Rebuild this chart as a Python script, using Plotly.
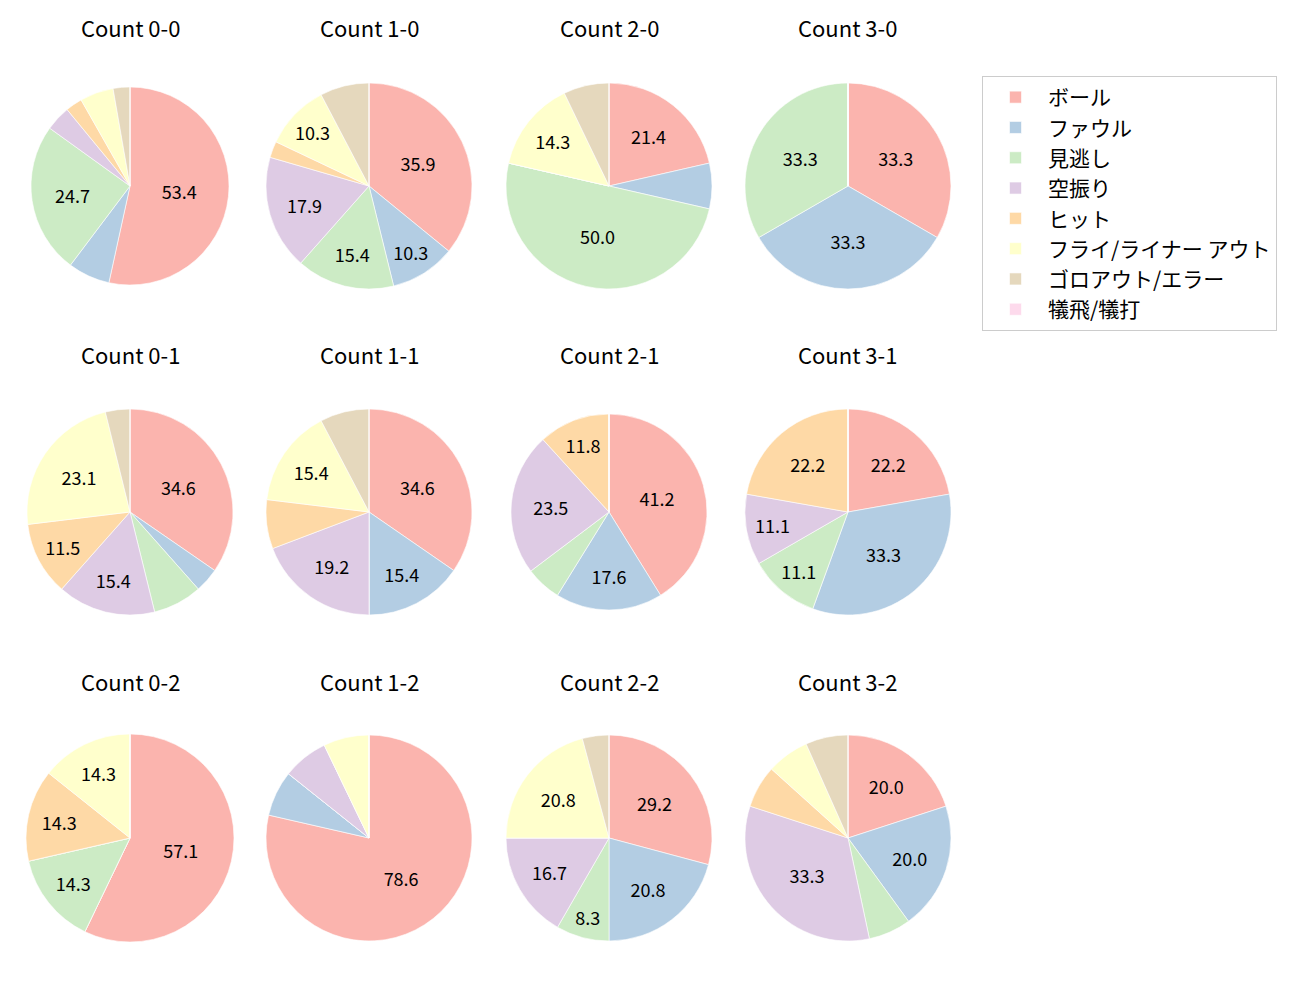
import plotly.graph_objects as go

categories = ["ボール", "ファウル", "見逃し", "空振り", "ヒット",
              "フライ/ライナー アウト", "ゴロアウト/エラー", "犠飛/犠打"]
colors = ["#fbb4ae", "#b3cde3", "#ccebc5", "#decbe4", "#fed9a6",
          "#ffffcc", "#e5d8bd", "#fddaec"]

titles = ["Count 0-0", "Count 1-0", "Count 2-0", "Count 3-0",
          "Count 0-1", "Count 1-1", "Count 2-1", "Count 3-1",
          "Count 0-2", "Count 1-2", "Count 2-2", "Count 3-2"]

count_0_0 = [39, 5, 18, 3, 2, 4, 2, 0]
count_1_0 = [14, 4, 6, 7, 1, 4, 3, 0]
count_2_0 = [3, 1, 7, 0, 0, 2, 1, 0]
count_3_0 = [1, 1, 1, 0, 0, 0, 0, 0]
count_0_1 = [9, 1, 2, 4, 3, 6, 1, 0]
count_1_1 = [9, 4, 0, 5, 2, 4, 2, 0]
count_2_1 = [7, 3, 1, 4, 2, 0, 0, 0]
count_3_1 = [2, 3, 1, 1, 2, 0, 0, 0]
count_0_2 = [4, 0, 1, 0, 1, 1, 0, 0]
count_1_2 = [11, 1, 0, 1, 0, 1, 0, 0]
count_2_2 = [7, 5, 2, 4, 0, 5, 1, 0]
count_3_2 = [3, 3, 1, 5, 1, 1, 1, 0]

series = [count_0_0, count_1_0, count_2_0, count_3_0,
          count_0_1, count_1_1, count_2_1, count_3_1,
          count_0_2, count_1_2, count_2_2, count_3_2]

FONT = "Noto Sans CJK JP"

# layout: pie centres (px) and radii (px)
W, H = 1300, 1000
col_x = [130, 369, 609, 848]
row_y = [186, 512, 838]
title_y = [27, 354, 681]
radii = [99, 103, 103, 103,
         103, 103, 98, 103,
         104, 103, 103, 103]

fig = go.Figure()
for i, vals in enumerate(series):
    r, c = divmod(i, 4)
    cx, cy, rad = col_x[c], row_y[r], radii[i]
    total = sum(vals)
    texts = [f"{v / total * 100:.1f}" if v / total * 100 >= 8 else "" for v in vals]
    fig.add_trace(go.Pie(
        labels=categories,
        values=vals,
        text=texts,
        textinfo="text",
        textposition="inside",
        insidetextorientation="horizontal",
        textfont=dict(size=18, color="black", family=FONT),
        marker=dict(colors=colors, line=dict(color="white", width=0.6)),
        sort=False,
        direction="clockwise",
        rotation=0,
        showlegend=(i == 0),
        hoverinfo="label+percent",
        domain=dict(x=[(cx - rad) / W, (cx + rad) / W],
                    y=[1 - (cy + rad) / H, 1 - (cy - rad) / H]),
    ))
    fig.add_annotation(text=titles[i], x=cx / W, y=1 - title_y[r] / H,
                       xref="paper", yref="paper", showarrow=False,
                       xanchor="center", yanchor="middle",
                       font=dict(size=22, color="black", family=FONT))

fig.update_layout(
    width=W, height=H,
    margin=dict(l=0, r=0, t=0, b=0),
    paper_bgcolor="white",
    plot_bgcolor="white",
    uniformtext=dict(minsize=18, mode="show"),
    legend=dict(
        x=982 / W, y=1 - 76 / H, xanchor="left", yanchor="top",
        bordercolor="#cccccc", borderwidth=1,
        font=dict(size=21, family=FONT, color="black"),
        traceorder="normal",
        itemwidth=55,
        tracegroupgap=0,
    ),
)

fig.write_html("out.html")
